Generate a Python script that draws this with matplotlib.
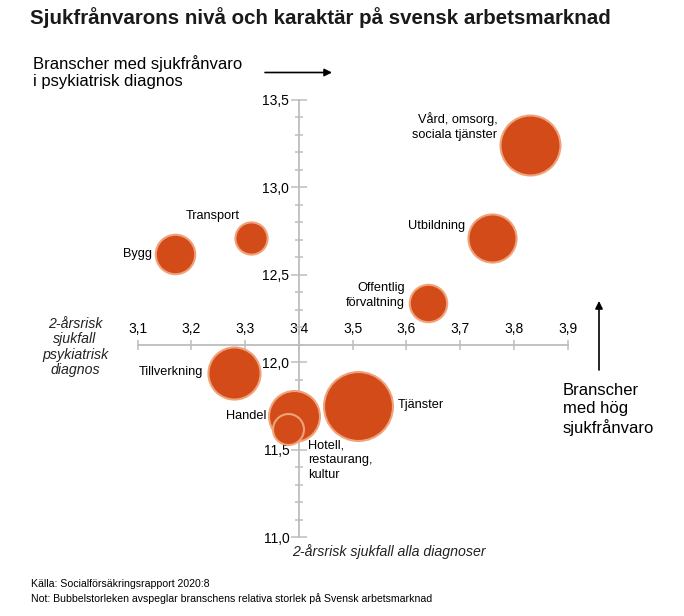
import matplotlib
matplotlib.use("Agg")
import matplotlib.pyplot as plt
from matplotlib.patches import FancyArrowPatch
from matplotlib.ticker import FuncFormatter

plt.rcParams['font.family'] = ['Liberation Sans', 'DejaVu Sans']

# bransch, 2-årsrisk alla diagnoser (x), 2-årsrisk psykiatrisk diagnos (y), relativ storlek
branscher = ["Vård, omsorg,\nsociala tjänster", "Utbildning", "Offentlig\nförvaltning",
             "Transport", "Bygg", "Tillverkning", "Tjänster", "Handel",
             "Hotell,\nrestaurang,\nkultur"]
risk_alla = [3.83, 3.76, 3.64, 3.31, 3.17, 3.28, 3.51, 3.39, 3.38]
risk_psyk = [13.24, 12.71, 12.34, 12.71, 12.62, 11.94, 11.75, 11.69, 11.62]
storlek = [90, 58, 35, 26, 39, 68, 119, 65, 24]

x_ticks = [3.1, 3.2, 3.3, 3.4, 3.5, 3.6, 3.7, 3.8, 3.9]
y_ticks = [11.0, 11.5, 12.0, 12.5, 13.0, 13.5]
y_minor = [v / 10 for v in range(111, 135) if v % 5 != 0]

# label placement (offset in points from bubble centre, alignment)
label_pos = [(-23.5, 13.5, 'right'), (-19.4, 8.4, 'right'), (-16.8, 5.3, 'right'),
             (-27.6, 16, 'center'), (-17, 0, 'right'), (-22.8, 0.7, 'right'),
             (28.4, 0.5, 'left'), (-19.7, 0.5, 'right'), (14.4, -22.8, 'left')]

FILL = '#D24B18'
EDGE = '#F0A27A'
GREY = '#BDBDBD'

fig = plt.figure(figsize=(6.84, 6.16), dpi=100)
ax = fig.add_axes([0.1228, 0.0998, 0.7858, 0.767])
ax.set_xlim(3.0, 4.0)
ax.set_ylim(10.9, 13.6)

comma = FuncFormatter(lambda v, p: f"{v:.1f}".replace(".", ","))

ax.spines['right'].set_visible(False)
ax.spines['bottom'].set_visible(False)
ax.spines['top'].set_position(('data', 12.1))
ax.spines['top'].set_bounds(3.1, 3.9)
ax.spines['left'].set_position(('data', 3.4))
ax.spines['left'].set_bounds(11.0, 13.5)
for s in ('top', 'left'):
    ax.spines[s].set_color(GREY)
    ax.spines[s].set_linewidth(1.3)

ax.xaxis.tick_top()
ax.set_xticks(x_ticks)
ax.xaxis.set_major_formatter(comma)
ax.set_yticks(y_ticks)
ax.set_yticks(y_minor, minor=True)
ax.yaxis.set_major_formatter(comma)
ax.tick_params(axis='x', which='major', direction='inout', length=6.5, width=1.1,
               color=GREY, labelsize=10, pad=3)
ax.tick_params(axis='y', which='major', direction='inout', length=12, width=1.1,
               color=GREY, labelsize=10, pad=1)
ax.tick_params(axis='y', which='minor', direction='inout', length=6, width=1.1, color=GREY)

for i in range(len(branscher)):
    ax.scatter(risk_alla[i], risk_psyk[i], s=storlek[i] * 20.7, color=FILL,
               edgecolor=EDGE, linewidth=1.5, zorder=3 + i * 0.01)
    dx, dy, ha = label_pos[i]
    ax.annotate(branscher[i], (risk_alla[i], risk_psyk[i]), xytext=(dx, dy),
                textcoords='offset points', ha=ha, va='center', fontsize=9.2,
                linespacing=1.3, zorder=5)

fig.text(292 / 684, 1 - 552 / 616, "2-årsrisk sjukfall alla diagnoser",
         fontsize=10.2, style='italic', color='#222222', ha='left', va='center')
fig.text(75 / 684, 1 - 347 / 616, "2-årsrisk\nsjukfall\npsykiatrisk\ndiagnos",
         fontsize=10.2, style='italic', color='#222222', ha='center', va='center',
         linespacing=1.15)

fig.text(30 / 684, 1 - 18 / 616, "Sjukfrånvarons nivå och karaktär på svensk arbetsmarknad",
         fontsize=14.8, fontweight='bold', color='#1a1a1a', ha='left', va='center')
fig.text(33 / 684, 1 - 72 / 616, "Branscher med sjukfrånvaro\ni psykiatrisk diagnos",
         fontsize=12, ha='left', va='center', linespacing=1.1)
fig.text(563 / 684, 1 - 409.5 / 616, "Branscher\nmed hög\nsjukfrånvaro",
         fontsize=12, ha='left', va='center', linespacing=1.25)

fig.text(31 / 684, 1 - 584 / 616, "Källa: Socialförsäkringsrapport 2020:8",
         fontsize=7.6, ha='left', va='center')
fig.text(31 / 684, 1 - 599 / 616,
         "Not: Bubbelstorleken avspeglar branschens relativa storlek på Svensk arbetsmarknad",
         fontsize=7.6, ha='left', va='center')

arrow = dict(arrowstyle='-|>', color='black', lw=1.2, mutation_scale=11, shrinkA=0, shrinkB=0)
fig.add_artist(FancyArrowPatch((265 / 684, 1 - 72.5 / 616), (332 / 684, 1 - 72.5 / 616),
                               transform=fig.transFigure, **arrow))
fig.add_artist(FancyArrowPatch((599 / 684, 1 - 370 / 616), (599 / 684, 1 - 301 / 616),
                               transform=fig.transFigure, **arrow))

fig.savefig("out.png", dpi=100, facecolor='white')
